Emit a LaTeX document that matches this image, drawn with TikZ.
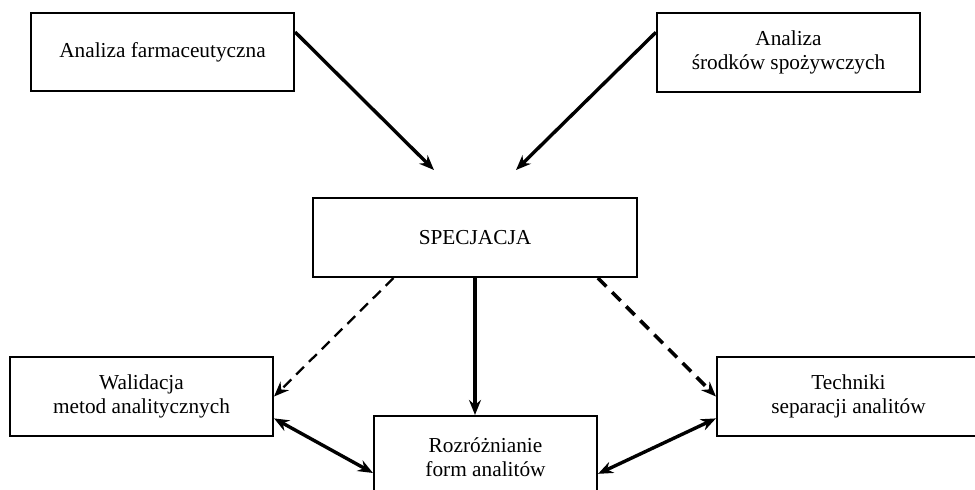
\documentclass[tikz,border=0pt]{standalone}
\usepackage{fontspec}
\setmainfont{Liberation Serif}
\usetikzlibrary{arrows.meta,calc}
\begin{document}
\begin{tikzpicture}[x=1pt,y=-1pt,
  box/.style={draw,line width=2.1pt,rectangle,inner sep=0pt,align=center,
    font=\fontsize{21.3}{23.5}\selectfont},
  tip/.tip={Stealth[length=15pt,width=12pt,inset=5pt]},
  arr/.style={line width=3.4pt,-tip},
  dbl/.style={line width=3.4pt,tip-tip},
  dashthin/.style={line width=2.3pt,dash pattern=on 11pt off 7pt,-tip},
  dashthick/.style={line width=3.6pt,dash pattern=on 12pt off 8pt,-tip}]
\clip (0,0) rectangle (975,490);
\fill[white] (0,0) rectangle (975,490);
\node[box,minimum width=263pt,minimum height=78pt] (A) at (162.5,52) {Analiza farmaceutyczna};
\node[box,minimum width=263pt,minimum height=79pt] (B) at (788.5,52.5) {Analiza\\środków spożywczych};
\node[box,minimum width=324pt,minimum height=79pt] (S) at (475,237.5) {SPECJACJA};
\node[box,minimum width=263pt,minimum height=79pt] (W) at (141.5,396.5) {Walidacja\\metod analitycznych};
\node[box,minimum width=263pt,minimum height=79pt] (T) at (848.5,396.5) {Techniki\\separacji analitów};
\node[box,minimum width=223pt,minimum height=82pt] (R) at (485.5,457) {Rozróżnianie\\form analitów};
\coordinate (t1) at (434,170);
\coordinate (t2) at (516,170);
\draw[arr] ($(A.north east)!0.25!(A.south east)$) -- (t1);
\draw[arr] ($(B.north west)!0.25!(B.south west)$) -- (t2);
\draw[dashthin] ($(S.south west)!0.25!(S.south east)$) -- (W.east);
\draw[dashthick] ($(S.south west)!0.877!(S.south east)$) -- (T.west);
\draw[arr] (S.south) -- (S.south |- R.north);
\draw[dbl] ($(W.north east)!0.77!(W.south east)$) -- ($(R.north west)!0.69!(R.south west)$);
\draw[dbl] ($(T.north west)!0.77!(T.south west)$) -- ($(R.north east)!0.70!(R.south east)$);
\end{tikzpicture}
\end{document}
